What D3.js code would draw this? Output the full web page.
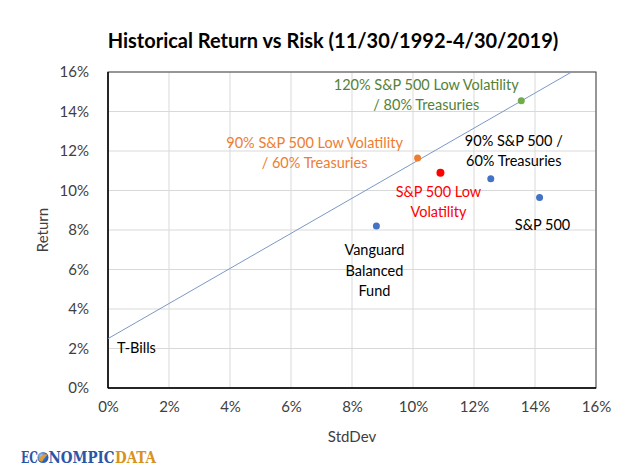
<!DOCTYPE html>
<html>
<head>
<meta charset="utf-8">
<script src="https://cdn.jsdelivr.net/npm/d3@7"></script>
<style>
  body { margin: 0; background: #fff; }
  svg { display: block; font-family: Lato, "Open Sans", sans-serif; }
</style>
</head>
<body>
<svg id="chart"></svg>
<script>
const width = 640;
const height = 476;

// std dev (%), return (%)
const names = ["Vanguard Balanced Fund", "S&P 500 Low Volatility", "90% S&P 500 / 60% Treasuries",
  "S&P 500", "90% S&P 500 Low Volatility / 60% Treasuries", "120% S&P 500 Low Volatility / 80% Treasuries"];
const stdDev = [8.8, 10.9, 12.55, 14.15, 10.15, 13.55];
const returns = [8.2, 10.9, 10.6, 9.65, 11.65, 14.55];
const pointColors = ["#4472c4", "#ff0000", "#4472c4", "#4472c4", "#ed7d31", "#70ad47"];

// label lines for each point and their placement relative to the point (in px)
const labelLines = [
  ["Vanguard", "Balanced", "Fund"],
  ["S&P 500 Low", "Volatility"],
  ["90% S&P 500 /", "60% Treasuries"],
  ["S&P 500"],
  ["90% S&P 500 Low Volatility", "/ 60% Treasuries"],
  ["120% S&P 500 Low Volatility", "/ 80% Treasuries"]
];
const labelColors = ["#000", "#ff0000", "#000", "#000", "#ed7d31", "#548235"];
const labelOffsets = [[-2, 24], [-2, 19], [23, -38], [3, 28], [-103, -15], [-95, -16]];

// capital market line from T-Bills
const lineSd = [0, 15.2];
const lineRet = [2.5, 16];

const xTicks = [0, 2, 4, 6, 8, 10, 12, 14, 16];
const yTicks = [0, 2, 4, 6, 8, 10, 12, 14, 16];

const margin = { top: 72, right: 44, bottom: 88, left: 108 };

const svg = d3.select("#chart").attr("width", width).attr("height", height);

const x = d3.scaleLinear().domain([0, 16]).range([margin.left, width - margin.right]);
const y = d3.scaleLinear().domain([0, 16]).range([height - margin.bottom, margin.top]);

// gridlines
svg.append("g")
  .selectAll("line.v")
  .data(xTicks)
  .join("line")
  .attr("x1", d => x(d)).attr("x2", d => x(d))
  .attr("y1", y(0)).attr("y2", y(16))
  .attr("stroke", "#d9d9d9").attr("stroke-width", 1);

svg.append("g")
  .selectAll("line.h")
  .data(yTicks)
  .join("line")
  .attr("x1", x(0)).attr("x2", x(16))
  .attr("y1", d => y(d)).attr("y2", d => y(d))
  .attr("stroke", "#d9d9d9").attr("stroke-width", 1);

// plot border
svg.append("rect")
  .attr("x", x(0)).attr("y", y(16))
  .attr("width", x(16) - x(0)).attr("height", y(0) - y(16))
  .attr("fill", "none").attr("stroke", "#404040").attr("stroke-width", 1);

svg.append("line")
  .attr("x1", x(0)).attr("x2", x(16))
  .attr("y1", y(0)).attr("y2", y(0))
  .attr("stroke", "#000").attr("stroke-width", 1.5);
svg.append("line")
  .attr("x1", x(0)).attr("x2", x(0))
  .attr("y1", y(0)).attr("y2", y(16))
  .attr("stroke", "#000").attr("stroke-width", 1.5);

// axes (labels only)
const xAxis = svg.append("g")
  .attr("transform", `translate(0,${y(0) + 10})`)
  .call(d3.axisBottom(x).tickValues(xTicks).tickFormat(d => d + "%").tickSize(0));
const yAxis = svg.append("g")
  .attr("transform", `translate(${x(0) - 16},0)`)
  .call(d3.axisLeft(y).tickValues(yTicks).tickFormat(d => d + "%").tickSize(0));
[xAxis, yAxis].forEach(a => {
  a.select(".domain").remove();
  a.selectAll("text")
    .attr("font-family", "Lato, sans-serif")
    .attr("font-size", 15)
    .attr("fill", "#404040");
});

// line
const line = d3.line().x(d => x(d[0])).y(d => y(d[1]));
svg.append("path")
  .datum(d3.zip(lineSd, lineRet))
  .attr("d", line)
  .attr("fill", "none")
  .attr("stroke", "#7c98c4")
  .attr("stroke-width", 1);

// points
svg.append("g")
  .selectAll("circle")
  .data(names)
  .join("circle")
  .attr("cx", (d, i) => x(stdDev[i]))
  .attr("cy", (d, i) => y(returns[i]))
  .attr("r", (d, i) => i === 1 ? 4 : 3.5)
  .attr("fill", (d, i) => pointColors[i]);

// point labels
const labels = svg.append("g")
  .selectAll("text")
  .data(names)
  .join("text")
  .attr("text-anchor", "middle")
  .attr("font-size", 14.5)
  .attr("fill", (d, i) => labelColors[i])
  .attr("x", (d, i) => x(stdDev[i]) + labelOffsets[i][0])
  .attr("y", (d, i) => y(returns[i]) + labelOffsets[i][1]);

labels.each(function (d, i) {
  const t = d3.select(this);
  const x0 = +t.attr("x");
  labelLines[i].forEach((s, j) => {
    t.append("tspan")
      .attr("x", x0)
      .attr("dy", j === 0 ? "0.35em" : 20.5)
      .text(s);
  });
});

svg.append("text")
  .attr("x", x(0) + 9)
  .attr("y", y(lineRet[0]) + 9)
  .attr("dy", "0.35em")
  .attr("font-size", 14.5)
  .attr("fill", "#000")
  .text("T-Bills");

// titles
svg.append("text")
  .attr("x", 333)
  .attr("y", 48)
  .attr("text-anchor", "middle")
  .attr("font-size", 20)
  .attr("font-weight", "bold")
  .attr("fill", "#000")
  .text("Historical Return vs Risk (11/30/1992-4/30/2019)");

svg.append("text")
  .attr("x", (x(0) + x(16)) / 2)
  .attr("y", 442)
  .attr("text-anchor", "middle")
  .attr("font-size", 15)
  .attr("fill", "#404040")
  .text("StdDev");

svg.append("text")
  .attr("transform", `translate(48,${(y(0) + y(16)) / 2}) rotate(-90)`)
  .attr("text-anchor", "middle")
  .attr("font-size", 15)
  .attr("fill", "#404040")
  .text("Return");

// logo
const defs = svg.append("defs");
const grad = defs.append("radialGradient").attr("id", "globe").attr("cx", "35%").attr("cy", "35%");
grad.append("stop").attr("offset", "0%").attr("stop-color", "#a9d4f5");
grad.append("stop").attr("offset", "100%").attr("stop-color", "#2a62b8");

const logo = svg.append("g")
  .attr("font-family", "'DejaVu Serif Condensed', 'DejaVu Serif', serif")
  .attr("font-weight", "bold")
  .attr("font-size", 16);
const logoParts = [
  { s: "EC", x: 21, w: 17, c: "#2b56a6" },
  { s: "NOMPIC", x: 48.5, w: 66, c: "#2b56a6" },
  { s: "DATA", x: 115, w: 41, c: "#d8921e" }
];
logo.selectAll("text")
  .data(logoParts)
  .join("text")
  .attr("x", d => d.x)
  .attr("y", 463)
  .attr("textLength", d => d.w)
  .attr("lengthAdjust", "spacingAndGlyphs")
  .attr("fill", d => d.c)
  .text(d => d.s);
logo.append("circle").attr("cx", 43).attr("cy", 457.5).attr("r", 5.5).attr("fill", "url(#globe)");
logo.append("path")
  .attr("d", "M38.5,460 Q41,453 48,454.5 Q44,457 42,462 Z")
  .attr("fill", "#e89a2a");
</script>
</body>
</html>
